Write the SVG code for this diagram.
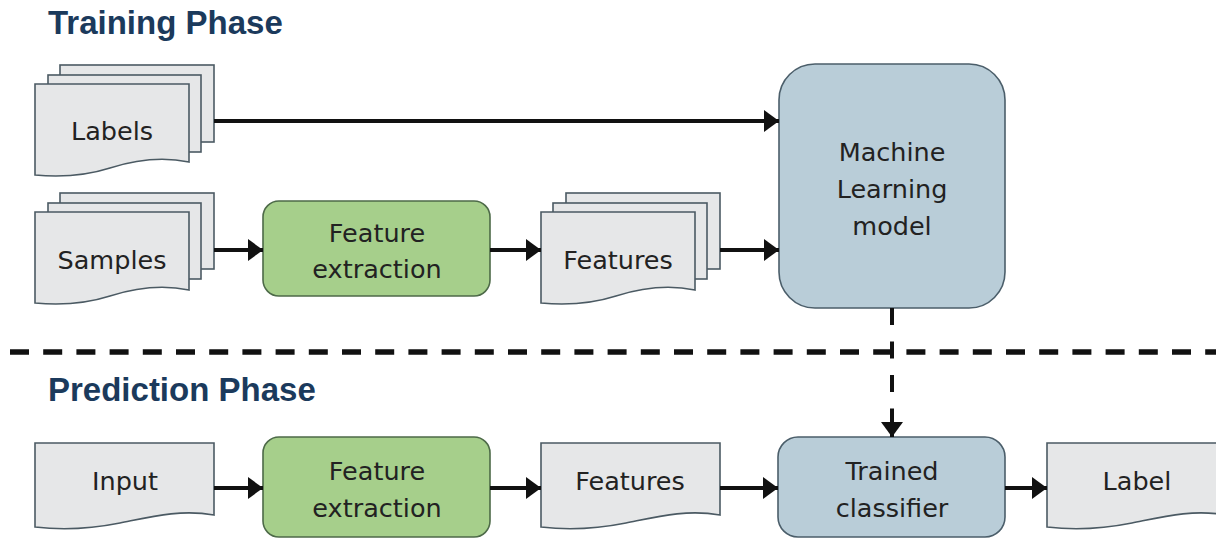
<svg xmlns="http://www.w3.org/2000/svg" width="1216" height="539" viewBox="0 0 1216 539">
<style>
.title{font-family:"Liberation Sans",Arial,sans-serif;font-weight:bold;font-size:33px;fill:#1b3a5c}
.lbl{font-family:"DejaVu Sans","Liberation Sans",sans-serif;font-size:25.5px;fill:#222;text-anchor:middle}
.doc{fill:#e6e7e8;stroke:#4b5a63;stroke-width:1.6}
.green{fill:#a6cf8b;stroke:#4d6a48;stroke-width:1.6}
.blue{fill:#b9cdd8;stroke:#4b5e6a;stroke-width:1.6}
.conn{stroke:#111;stroke-width:4;fill:none}
</style>
<defs>
<marker id="ah" markerUnits="userSpaceOnUse" markerWidth="16" markerHeight="24" refX="15" refY="11" orient="auto">
<path d="M0,0 L15,11 L0,22 Z" fill="#111"/>
</marker>
<path id="front" d="M0,0 H154 V78 C125,72 100,76 75,84 C50,92 22,93 0,91 Z"/>
<path id="single" d="M0,0 H179 V72 C145,66 115,74 85,80 C55,86 25,87 0,84 Z"/>
</defs>
<rect width="1216" height="539" fill="#fff"/>
<text class="title" x="48" y="34">Training Phase</text>
<text class="title" x="48" y="401">Prediction Phase</text>
<g id="divider">
<line x1="10" y1="352" x2="1216" y2="352" stroke="#111" stroke-width="5.5" stroke-dasharray="19 14.2"/>
</g>
<g id="labels">
<rect class="doc" x="60" y="65" width="154" height="77"/>
<rect class="doc" x="48" y="75" width="153" height="77"/>
<use href="#front" class="doc" x="35" y="84"/>
<text class="lbl" x="112" y="140">Labels</text>
</g>
<g id="samples">
<rect class="doc" x="60" y="193" width="154" height="76"/>
<rect class="doc" x="48" y="203" width="153" height="76"/>
<use href="#front" class="doc" x="35" y="212"/>
<text class="lbl" x="112" y="269">Samples</text>
</g>
<g id="feat-extract-train">
<rect class="green" x="263" y="201" width="227" height="95" rx="16"/>
<text class="lbl" x="377" y="242">Feature</text>
<text class="lbl" x="377" y="278">extraction</text>
</g>
<g id="features-train">
<rect class="doc" x="566" y="193" width="154" height="76"/>
<rect class="doc" x="553" y="203" width="154" height="76"/>
<use href="#front" class="doc" x="541" y="212"/>
<text class="lbl" x="618" y="269">Features</text>
</g>
<g id="ml-model">
<rect class="blue" x="779" y="64" width="226" height="244" rx="36"/>
<text class="lbl" x="892" y="161">Machine</text>
<text class="lbl" x="892" y="198">Learning</text>
<text class="lbl" x="892" y="235">model</text>
</g>
<g id="input">
<use href="#single" class="doc" x="35" y="443"/>
<text class="lbl" x="125" y="490">Input</text>
</g>
<g id="feat-extract-pred">
<rect class="green" x="263" y="437" width="227" height="100" rx="16"/>
<text class="lbl" x="377" y="480">Feature</text>
<text class="lbl" x="377" y="517">extraction</text>
</g>
<g id="features-pred">
<use href="#single" class="doc" x="541" y="443"/>
<text class="lbl" x="630" y="490">Features</text>
</g>
<g id="trained-classifier">
<rect class="blue" x="778" y="437" width="227" height="100" rx="20"/>
<text class="lbl" x="892" y="480">Trained</text>
<text class="lbl" x="892" y="517">classifier</text>
</g>
<g id="label-out">
<use href="#single" class="doc" x="1047" y="443"/>
<text class="lbl" x="1137" y="490">Label</text>
</g>
<g id="connectors">
<line class="conn" x1="214" y1="121" x2="779" y2="121" marker-end="url(#ah)"/>
<line class="conn" x1="214" y1="250" x2="263" y2="250" marker-end="url(#ah)"/>
<line class="conn" x1="490" y1="250" x2="541" y2="250" marker-end="url(#ah)"/>
<line class="conn" x1="720" y1="250" x2="779" y2="250" marker-end="url(#ah)"/>
<line class="conn" x1="892" y1="308" x2="892" y2="437" stroke-width="4.5" stroke-dasharray="17 16.5 17 16.5 17 16.5 30" marker-end="url(#ah)"/>
<line class="conn" x1="214" y1="488" x2="263" y2="488" marker-end="url(#ah)"/>
<line class="conn" x1="490" y1="488" x2="541" y2="488" marker-end="url(#ah)"/>
<line class="conn" x1="720" y1="488" x2="778" y2="488" marker-end="url(#ah)"/>
<line class="conn" x1="1005" y1="488" x2="1047" y2="488" marker-end="url(#ah)"/>
</g>
</svg>
